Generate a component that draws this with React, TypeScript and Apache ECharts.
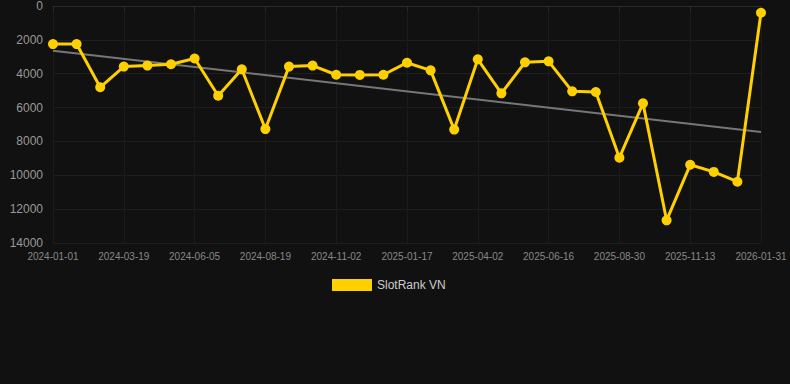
import React, { useEffect, useRef } from "react";
import * as echarts from "echarts";

const dates = [
  "2024-01-01", "2024-01-27", "2024-02-22", "2024-03-19", "2024-04-14", "2024-05-10",
  "2024-06-05", "2024-06-30", "2024-07-25", "2024-08-19", "2024-09-13", "2024-10-08",
  "2024-11-02", "2024-11-27", "2024-12-23", "2025-01-17", "2025-02-11", "2025-03-08",
  "2025-04-02", "2025-04-27", "2025-05-22", "2025-06-16", "2025-07-11", "2025-08-05",
  "2025-08-30", "2025-09-24", "2025-10-19", "2025-11-13", "2025-12-09", "2026-01-05",
  "2026-01-31",
];

const rankValues = [
  2250, 2250, 4800, 3580, 3520, 3440, 3100, 5300, 3740, 7270, 3580, 3520,
  4060, 4070, 4060, 3350, 3800, 7300, 3150, 5160, 3330, 3270, 5040, 5080,
  8960, 5750, 12660, 9380, 9800, 10380, 400,
];

const trendEnds = [2640, 7440];

const yTicks = { min: 0, max: 14000, interval: 2000 };

export default function App() {
  const ref = useRef<HTMLDivElement>(null);
  useEffect(() => {
    document.body.style.margin = "0";
    document.body.style.background = "#111111";
    const chart = echarts.init(ref.current!, null, { renderer: "svg" });
    chart.setOption({
      animation: false,
      backgroundColor: "#111111",
      grid: { left: 53, right: 29, top: 6, height: 237 },
      legend: {
        data: ["SlotRank VN"],
        top: 274,
        left: 327,
        icon: "rect",
        itemWidth: 40,
        itemHeight: 12,
        itemGap: 5,
        textStyle: { color: "#cccccc", fontSize: 12, fontFamily: "Arial, Liberation Sans, sans-serif" },
      },
      xAxis: {
        type: "category",
        data: dates,
        boundaryGap: false,
        axisLine: { show: true, lineStyle: { color: "#2a2a2a" } },
        axisTick: { show: true, interval: 2, lineStyle: { color: "#2a2a2a" } },
        axisLabel: {
          interval: 2,
          color: "#888888",
          fontSize: 10,
          margin: 8,
          fontFamily: "Arial, Liberation Sans, sans-serif",
        },
        splitLine: { show: true, interval: 2, lineStyle: { color: "#1b1b1b" } },
      },
      yAxis: {
        type: "value",
        inverse: true,
        min: yTicks.min,
        max: yTicks.max,
        interval: yTicks.interval,
        axisLine: { show: false },
        axisTick: { show: false },
        axisLabel: {
          color: "#999999",
          fontSize: 12,
          margin: 10,
          formatter: (v: number) => String(v),
          fontFamily: "Arial, Liberation Sans, sans-serif",
        },
        splitLine: { show: true, lineStyle: { color: "#1e1e1e" } },
      },
      series: [
        {
          name: "Trend",
          type: "line",
          data: [
            [dates[0], trendEnds[0]],
            [dates[dates.length - 1], trendEnds[1]],
          ],
          symbol: "none",
          lineStyle: { color: "#777777", width: 2 },
          z: 1,
        },
        {
          name: "SlotRank VN",
          type: "line",
          data: rankValues,
          symbol: "circle",
          symbolSize: 10,
          itemStyle: { color: "#FFD000" },
          lineStyle: { color: "#FFD000", width: 3 },
          z: 2,
        },
      ],
    });
    return () => chart.dispose();
  }, []);
  return <div ref={ref} style={{ width: 790, height: 384 }} />;
}
